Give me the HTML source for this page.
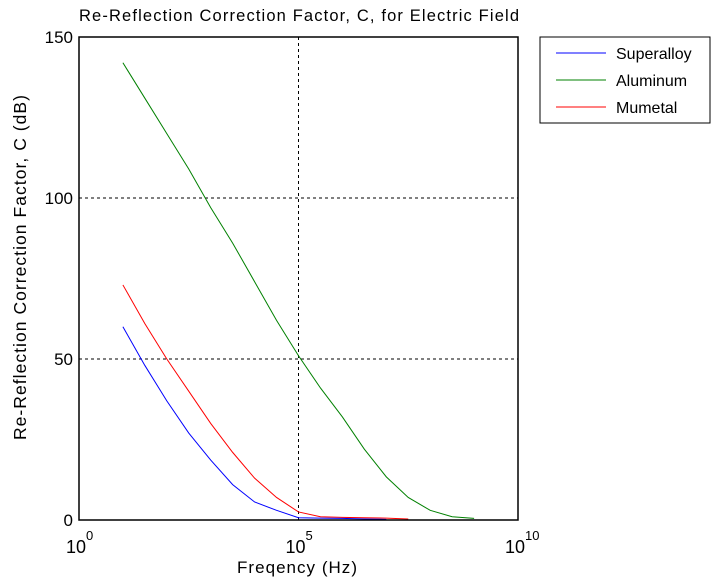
<!DOCTYPE html>
<html><head><meta charset="utf-8"><style>
body{margin:0;background:#fff;}
svg{display:block;font-family:"Liberation Sans",Arial,sans-serif;}
</style></head><body>
<svg id="chart" width="718" height="588">
<rect x="0" y="0" width="718" height="588" fill="#fff"/>
<g id="grid"></g>
<g id="series"></g>
<rect x="79" y="37" width="439" height="483" fill="none" stroke="#000" stroke-width="1.5"/>
<g id="ticks"></g>
<text x="79" y="21" font-size="16.5" textLength="440" lengthAdjust="spacing">Re-Reflection Correction Factor, C, for Electric Field</text>
<text x="237" y="573" font-size="17" textLength="120" lengthAdjust="spacing">Freqency (Hz)</text>
<text transform="translate(26,440) rotate(-90)" font-size="17.5" textLength="345" lengthAdjust="spacing">Re-Reflection Correction Factor, C (dB)</text>
<g>
<rect x="540" y="37" width="170" height="86" fill="#fff" stroke="#000"/>
<line x1="556" y1="53" x2="606" y2="53" stroke="#0000ff"/>
<text x="616" y="59" font-size="16">Superalloy</text>
<line x1="556" y1="80" x2="606" y2="80" stroke="#008000"/>
<text x="616" y="86" font-size="16">Aluminum</text>
<line x1="556" y1="107" x2="606" y2="107" stroke="#ff0000"/>
<text x="616" y="113" font-size="16">Mumetal</text>
</g>
</svg>
<script>
const aluLogF = [1,1.5,2,2.5,3,3.5,4,4.5,5,5.5,6,6.5,7,7.5,8,8.5,9];
const aluC = [142,131,120,109,97,86,74,62,51,41,32,22,13.4,7,3,1,0.5];
const muLogF = [1,1.5,2,2.5,3,3.5,4,4.5,5,5.5,6,6.5,7,7.5];
const muC = [73,61,50,40,30,21,13,7,2.5,1,0.8,0.7,0.6,0.3];
const supLogF = [1,1.5,2,2.5,3,3.5,4,4.5,5,5.5,6,6.5,7];
const supC = [60,48,37,27,18.6,11,5.6,3,0.7,0.6,0.5,0.3,0.2];
const yTicks = [0,50,100,150];
const xTickExp = [0,5,10];
const NS='http://www.w3.org/2000/svg';
const X = l => 79 + (l-0)/(10-0)*439;
const Y = v => 520 - v/150*483;
function mk(tag, attrs, parent){const e=document.createElementNS(NS,tag);for(const k in attrs)e.setAttribute(k,attrs[k]);parent.appendChild(e);return e;}
const grid=document.getElementById('grid'), ticks=document.getElementById('ticks'), series=document.getElementById('series');
yTicks.forEach(v=>{
  const g=mk('line',{x1:79,x2:518,y1:Y(v),y2:Y(v),stroke:'#000','stroke-dasharray':'3,3'},grid);
  
  
  const t=mk('text',{x:73,y:Y(v)+6,'text-anchor':'end','font-size':17},ticks);
  t.textContent=v;
  
  
});
xTickExp.forEach(e=>{
  const g=mk('line',{x1:X(e),x2:X(e),y1:37,y2:520,stroke:'#000','stroke-dasharray':'3,3'},grid);
  
  
  const t=mk('text',{x:X(e)-3,y:553,'text-anchor':'middle','font-size':18},ticks);
  t.textContent='10';
  
  
  const s=mk('text',{x:X(e)+7,y:540,'font-size':13},ticks);
  s.textContent=String(e);
  
  
});
function line(xs, ys, color, name){
  const p=mk('polyline',{points:xs.map((l,i)=>X(l)+','+Y(ys[i])).join(' '),fill:'none',stroke:color,'stroke-width':1},series);
  
  
}
line(aluLogF, aluC, '#008000', 'aluminum-line');
line(muLogF, muC, '#ff0000', 'mumetal-line');
line(supLogF, supC, '#0000ff', 'superalloy-line');
</script>
</body></html>
